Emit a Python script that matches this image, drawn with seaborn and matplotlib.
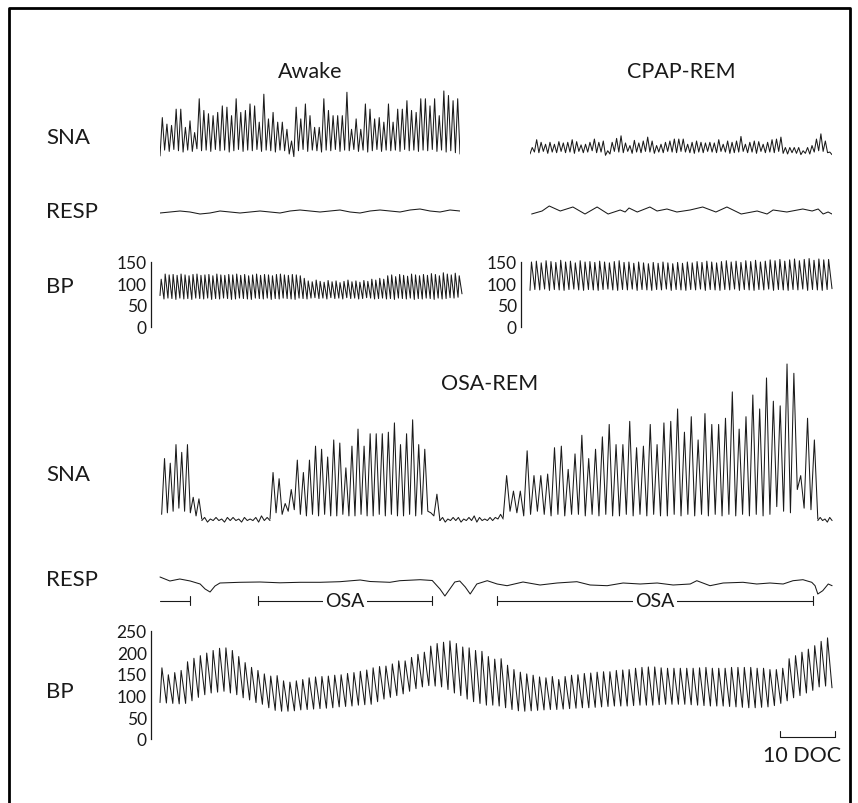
import numpy as np
import pandas as pd
import seaborn as sns
import matplotlib.pyplot as plt
from matplotlib.lines import Line2D

sns.set_style("white")
plt.rcParams["font.family"] = ["Lato", "DejaVu Sans"]

W, H = 858, 804
PX_PER_SEC = 5.5          # 10 s scale bar is 55 px wide
INK = "#1a1a1a"

# ---- Awake (top left) ----
awake_sna_peaks = [56, 46, 44, 69, 69, 41, 51, 33, 85, 67, 62, 59, 64, 74, 72, 59, 85, 64, 67, 77,
                   74, 49, 92, 54, 64, 49, 49, 38, 20, 72, 54, 77, 59, 41, 41, 85, 67, 59, 59, 59,
                   95, 38, 54, 38, 77, 69, 54, 56, 49, 77, 49, 69, 69, 82, 67, 64, 85, 85, 74, 85,
                   59, 97, 90, 82, 85]
awake_sna_troughs = [-3, 6, 4, 7, 5, 3, 6, 4, 8, 5, 6, 4, 7, 5, 6, 3, 5, 7, 4, 6,
                     5, 7, 4, 6, 5, 3, 6, 5, 0, -4, 5, 7, 4, 6, 5, 3, 6, 5, 7, 4,
                     6, 5, 7, 4, 6, 3, 5, 7, 4, 6, 5, 6, 4, 7, 5, 6, 4, 6, 5, 7,
                     4, 6, 3, 5, 2, 0]
awake_resp = [6, 7, 8, 7, 5, 6, 8, 7, 6, 7, 8, 7, 6, 8, 9, 8, 7, 8, 9, 7, 6, 8, 9, 8, 7, 9, 10, 8, 7, 9, 8]
awake_bp_peaks = [110, 122, 120, 121, 119, 122, 120, 118, 121, 122, 119, 120, 121, 118, 122, 120, 119, 121,
                  120, 122, 119, 121, 118, 120, 122, 119, 121, 120, 118, 121, 122, 120, 119, 121, 120, 118,
                  112, 106, 104, 108, 105, 103, 107, 104, 106, 102, 105, 108, 104, 106, 103, 107, 105, 110,
                  108, 112, 110,
                  118, 120, 116, 121, 119, 117, 122, 120, 118, 121, 119, 123, 121, 118, 125, 122, 120, 124, 118]
awake_bp_troughs = [72, 64, 66, 65, 63, 66, 64, 65, 63, 66, 65, 64, 66, 63, 65, 64, 66, 65, 63, 64,
                    66, 65, 64, 63, 66, 65, 64, 66, 63, 65, 64, 66, 65, 64, 63, 66, 65, 64, 66, 67,
                    65, 66, 64, 67, 65, 66, 64, 67, 65, 66, 64, 65, 67, 66, 64, 65, 66, 64, 65, 63,
                    66, 65, 64, 66, 63, 65, 64, 66, 65, 63, 66, 64, 65, 67, 66, 68, 76]

# ---- CPAP-REM (top right) ----
cpap_sna_peaks = [10, 22, 18, 15, 18, 15, 19, 17, 18, 22, 19, 14, 15, 18, 23, 18, 20, 5, 18, 24,
                  28, 17, 13, 21, 17, 20, 26, 20, 13, 15, 18, 20, 23, 23, 23, 15, 18, 20, 18, 17,
                  18, 17, 22, 15, 20, 18, 20, 27, 15, 18, 20, 19, 15, 18, 22, 23, 26, 10, 10, 10,
                  10, 5, 10, 13, 23, 31, 20, 3]
cpap_sna_troughs = [0, 3, 2, 4, 1, 3, 2, 4, 2, 3, 1, 4, 2, 3, 5, 2, 3, -2, 0, 4,
                    3, 2, 4, 1, 3, 2, 4, 3, 1, 3, 2, 4, 3, 2, 4, 3, 2, 1, 3, 2,
                    4, 3, 2, 4, 3, 1, 2, 3, 4, 2, 3, 1, 4, 2, 3, 2, 4, 1, 0, 2,
                    1, -1, 1, 0, 3, 5, 4, 2, -1]
cpap_resp_t = [0.3, 2.2, 3.5, 5.5, 7.8, 10.0, 12.2, 14.2, 16.4, 17.3, 18.0, 19.5, 21.8, 23.1, 24.9, 26.7,
               29.1, 31.4, 33.8, 35.8, 38.4, 41.3, 43.1, 44.2, 46.7, 49.6, 51.3, 52.4, 53.3, 54.2, 54.9]
cpap_resp = [0, 3, 8, 3, 7, 0, 7, 0, 4, 2, 6, 2, 7, 3, 5, 2, 4, 7, 2, 7, 0, 3, 0, 4, 2, 5, 3, 5, 0, 2, 0]
cpap_bp_peaks = [150, 152, 148, 153, 151, 149, 154, 150, 152, 148, 153, 150, 151, 149, 152, 150, 148, 151,
                 153, 149, 150, 147, 150, 148, 146, 149, 147, 150, 148, 146, 149, 147, 150, 148, 151, 149,
                 152, 150, 148, 151, 153, 150, 152, 149, 153, 151, 154, 150, 152, 155, 153, 156, 152, 155,
                 157, 153, 156, 158, 154, 157, 155, 156]
cpap_bp_troughs = [84, 86, 85, 87, 84, 86, 85, 84, 86, 87, 85, 84, 86, 85, 84, 86, 87, 85, 84, 86,
                   85, 87, 84, 86, 85, 84, 86, 85, 87, 84, 86, 85, 84, 86, 85, 87, 84, 86, 85, 84,
                   86, 85, 87, 84, 86, 85, 84, 86, 85, 87, 84, 86, 85, 84, 86, 85, 87, 84, 86, 85,
                   84, 86, 88]

# ---- OSA-REM (bottom) ----
# SNA: segment boundaries (s) and burst peaks / troughs per segment
osa_sna_bounds = [0.3, 7.6, 20.0, 50.9, 62.4, 119.6, 122.2]
osa_sna_peaks = [
    [39, 36, 48, 43, 48, 14, 13],
    [1, 0, 1, 0, 1, 1, 0, 1, 0, 1, 2, 1],
    [30, 26, 10, 19, 38, 30, 38, 47, 45, 40, 51, 49, 33, 47, 58, 47, 55, 55, 55, 56,
     62, 48, 55, 64, 48, 45, 4, 16],
    [1, 0, 1, 1, 0, 1, 2, 1, 0, 1, 1, 3],
    [28, 18, 18, 44, 28, 28, 29, 46, 47, 32, 42, 54, 39, 45, 53, 61, 48, 48, 63, 46,
     47, 61, 48, 62, 63, 71, 56, 66, 51, 68, 61, 61, 65, 82, 58, 66, 80, 71, 91, 76,
     73, 100, 94, 28, 65, 51],
    [1, 0, 1],
]
osa_sna_troughs = [
    [3, 4, 5, 7, 5, 4, 2, 0],
    [-1, -2, -1, -1, -2, -1, -1, -2, -1, -1, -2, -1, -1],
    [0, 4, 3, 5, 6, 3, 2, 3, 2, 3, 2, 2, 3, 2, 2, 3, 2, 2, 3, 2, 3, 2, 2, 3, 2, 3, 5, 2, -1],
    [-1, -2, -1, -1, -2, -1, -1, -2, -1, -1, -1, 0, 0],
    [1, 5, 4, 2, 3, 5, 3, 2, 3, 2, 3, 3, 2, 3, 2, 3, 2, 2, 3, 2, 3, 2, 3, 2, 2, 3, 2,
     3, 2, 3, 2, 3, 2, 3, 2, 3, 2, 3, 2, 3, 8, 5, 4, 19, 7, 6, 0],
    [-1, -1, -2, -1],
]
osa_resp_t = [0, 1.8, 3.6, 5.5, 7.3, 8.2, 9.1, 10.0, 10.9, 14.5, 18.2, 21.8, 25.5, 29.1, 32.7, 36.4,
              38.2, 41.8, 43.6, 47.3, 49.5, 50.9, 51.8, 52.7, 53.6, 54.5, 55.5, 56.4, 57.6, 59.5,
              61.3, 63.1, 66.0, 69.1, 72.2, 75.8, 78.2, 81.3, 84.2, 87.3, 90.4, 93.3, 96.4, 97.6,
              100.0, 102.4, 106.0, 108.5, 110.9, 113.3, 115.1, 116.9, 118.5, 119.1, 119.6, 120.5,
              121.5, 122.2]
osa_resp = [22, 18, 20, 18, 15, 10, 7, 13, 16, 16.7, 17, 16.2, 16.7, 16.7, 17.3, 19,
            17.5, 16.7, 18.3, 19.3, 18.5, 10, 3, 10, 17, 18, 12, 5, 15, 18.3,
            15, 13.3, 17, 14, 16, 17.3, 14, 13.3, 16, 15, 16, 14, 15, 18.3,
            13.3, 16, 16.7, 15, 16, 15, 18.3, 19.3, 16.7, 13.3, 5, 8.3,
            15, 13.3]
osa_periods = [(0.0, 5.5), (17.8, 49.5), (61.3, 118.7)]
osa_bp_peaks = [164, 148, 153, 158, 178, 186, 192, 198, 204, 209, 210, 204, 190, 176, 165, 158, 150, 145,
                146, 134, 131, 134, 137, 141, 143, 144, 145, 147, 148, 151, 153, 156, 159, 164, 167, 168,
                173, 180, 180, 188, 195, 200, 214, 220, 223, 226, 220, 212, 210, 204, 202, 190, 184, 185,
                170, 160, 154, 150, 147, 143, 141, 144, 137, 144, 147, 148, 151, 152, 154, 155, 155, 158,
                159, 160, 163, 165, 166, 166, 164, 163, 163, 163, 163, 163, 164, 165, 163, 163, 163, 165,
                165, 165, 165, 163, 163, 160, 160, 163, 185, 192, 200, 207, 215, 225, 233]
osa_bp_troughs = [84, 83, 82, 81, 82, 88, 96, 102, 106, 108, 110, 106, 102, 95, 90, 84, 80, 72,
                  66, 64, 64, 65, 67, 68, 69, 70, 71, 72, 74, 75, 76, 78, 79, 80, 86, 92,
                  96, 100, 104, 110, 116, 120, 123, 122, 120, 114, 106, 100, 92, 86, 82, 78, 78, 76,
                  72, 68, 65, 64, 65, 66, 67, 68, 68, 69, 70, 71, 72, 72, 73, 74, 75, 76,
                  76, 76, 77, 78, 78, 78, 79, 80, 80, 80, 80, 79, 78, 77, 76, 76, 76, 75,
                  74, 73, 72, 72, 73, 74, 77, 82, 88, 95, 100, 106, 112, 120, 122, 118]
scale_bar_sec = 10


def beats(t0, t1, troughs, peaks, rise=0.5):
    edges = np.linspace(t0, t1, len(peaks) + 1)
    t, v = [], []
    for i, p in enumerate(peaks):
        t += [edges[i], edges[i] + rise * (edges[i + 1] - edges[i])]
        v += [troughs[i], p]
    t.append(edges[-1])
    v.append(troughs[-1])
    return pd.DataFrame({"t": t, "v": v})


fig = plt.figure(figsize=(W / 100, H / 100), dpi=100)


def panel(x0, x1, ytop, ybot, xorigin, y0, ppu):
    # axes placed in pixel terms, limits so that value 0 sits at y0 and ppu px per unit
    ax = fig.add_axes([x0 / W, 1 - ybot / H, (x1 - x0) / W, (ybot - ytop) / H])
    ax.set_xlim((x0 - xorigin) / PX_PER_SEC, (x1 - xorigin) / PX_PER_SEC)
    ax.set_ylim((y0 - ybot) / ppu, (y0 - ytop) / ppu)
    ax.set_facecolor("none")
    return ax


def draw(ax, df, lw=0.75):
    sns.lineplot(data=df, x="t", y="v", ax=ax, color=INK, lw=lw, estimator=None, sort=False)
    ax.set_xlabel("")
    ax.set_ylabel("")


def bp_axis(ax, top, step):
    for s in ["top", "right", "bottom"]:
        ax.spines[s].set_visible(False)
    ax.spines["left"].set_bounds(0, top)
    ax.spines["left"].set_linewidth(0.9)
    ax.spines["left"].set_color(INK)
    ax.set_xticks([])
    ax.set_yticks(np.arange(0, top + 1, step))
    ax.tick_params(axis="y", direction="in", length=3, width=0.9, colors=INK, labelsize=12.5, pad=3)


def label(x, y, s, ha="left", size=15.5):
    fig.text(x / W, 1 - y / H, s, ha=ha, va="center", fontsize=size, color=INK)


# Awake
ax = panel(160, 460, 85, 160, 160, 155, 0.65)
draw(ax, beats(0, 300 / PX_PER_SEC, awake_sna_troughs, awake_sna_peaks))
ax.set_axis_off()
ax = panel(160, 460, 200, 225, 160, 220, 1.0)
draw(ax, pd.DataFrame({"t": np.linspace(0, 300 / PX_PER_SEC, len(awake_resp)), "v": awake_resp}))
ax.set_axis_off()
ax = panel(151, 465, 250, 332, 160, 327.5, 0.43)
draw(ax, beats(0, 302 / PX_PER_SEC, awake_bp_troughs, awake_bp_peaks, rise=0.3))
bp_axis(ax, 150, 50)

# CPAP-REM
ax = panel(530, 832, 85, 160, 530, 155, 0.65)
draw(ax, beats(0, 302 / PX_PER_SEC, cpap_sna_troughs, cpap_sna_peaks))
ax.set_axis_off()
ax = panel(530, 832, 200, 225, 530, 215, 1.0)
draw(ax, pd.DataFrame({"t": cpap_resp_t, "v": cpap_resp}))
ax.set_axis_off()
ax = panel(521, 835, 250, 332, 530, 327.5, 0.43)
draw(ax, beats(0, 302 / PX_PER_SEC, cpap_bp_troughs, cpap_bp_peaks, rise=0.3))
bp_axis(ax, 150, 50)

# OSA-REM
ax = panel(158, 834, 355, 530, 160, 520, 1.55)
for i in range(len(osa_sna_peaks)):
    draw(ax, beats(osa_sna_bounds[i], osa_sna_bounds[i + 1], osa_sna_troughs[i], osa_sna_peaks[i]))
ax.set_axis_off()
ax = panel(158, 834, 570, 600, 160, 600, 1.0)
draw(ax, pd.DataFrame({"t": osa_resp_t, "v": osa_resp}))
ax.set_axis_off()

ax = panel(158, 834, 594, 610, 160, 601.5, 1.0)
ax.set_axis_off()
for a, b in osa_periods:
    ax.plot([a, b], [0, 0], color=INK, lw=0.8)
    for e in (a, b):
        if e > 0:
            ax.plot([e, e], [-4.5, 4.5], color=INK, lw=0.8)
    if b - a > 20:
        ax.text((a + b) / 2, 0, "OSA", ha="center", va="center", fontsize=14, color=INK,
                bbox=dict(facecolor="white", edgecolor="none", pad=1.5))

ax = panel(151, 840, 622, 745, 160, 740, 0.434)
draw(ax, beats(0, 672 / PX_PER_SEC, osa_bp_troughs, osa_bp_peaks, rise=0.3))
bp_axis(ax, 250, 50)
ax.set_xlim((151 - 160) / PX_PER_SEC, (840 - 160) / PX_PER_SEC)
# 10 s scale bar, bracket opening upward just above the 0 line
sb0 = 112.7
ax.plot([sb0, sb0, sb0 + scale_bar_sec, sb0 + scale_bar_sec], [19.5, 5.5, 5.5, 19.5],
        color=INK, lw=0.8, clip_on=False)

# text
label(310, 72, "Awake", ha="center")
label(681, 72, "CPAP-REM", ha="center")
label(490, 384, "OSA-REM", ha="center")
for y, s in [(138, "SNA"), (212, "RESP"), (287, "BP"), (475, "SNA"), (580, "RESP"), (692, "BP")]:
    label(46, y, s, size=16)
label(802, 756, "10 DOC", ha="center")

# outer frame: left, top and right edges (open at the bottom)
fx = [9 / W, 9 / W, 850 / W, 850 / W]
fy = [0, 1 - 9 / H, 1 - 9 / H, 0]
fig.add_artist(Line2D(fx, fy, transform=fig.transFigure, color="black", lw=2))

fig.savefig("out.png", dpi=100)
